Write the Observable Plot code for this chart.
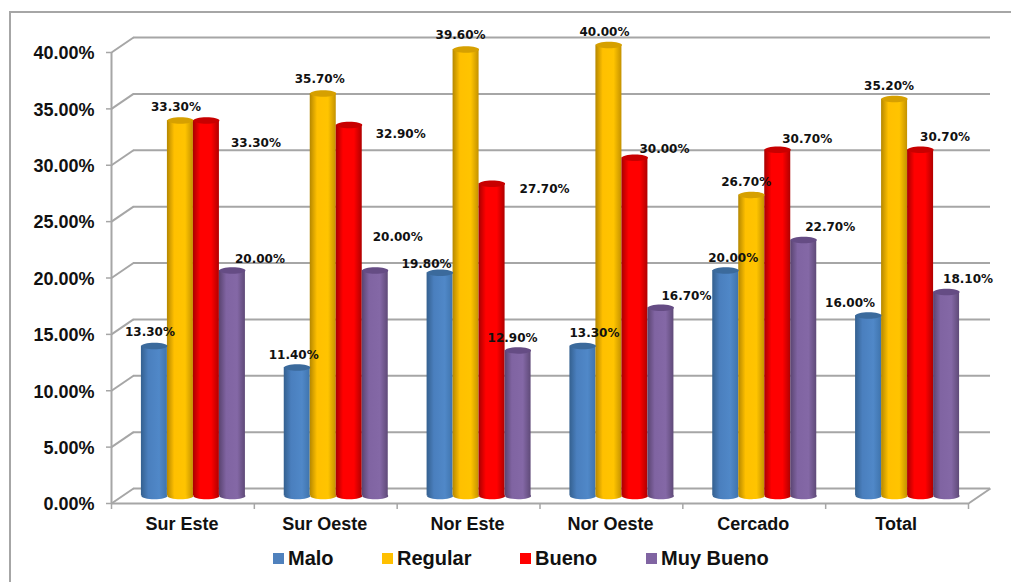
<!DOCTYPE html>
<html>
<head>
<meta charset="utf-8">
<script src="https://cdn.jsdelivr.net/npm/d3@7"></script>
<script src="https://cdn.jsdelivr.net/npm/@observablehq/plot@0.6"></script>
<style>
  html, body { margin: 0; padding: 0; background: #fff; }
  #page { position: relative; width: 1011px; height: 582px; overflow: hidden; }
  #frame { position: absolute; left: 9px; top: 11px; width: 1100px; height: 700px; border: 2px solid #a6a6a6; box-sizing: border-box; }
  #chart { position: absolute; left: 0; top: 0; }
  #legend { position: absolute; top: 546px; left: 0; height: 24px; font: bold 20px "Liberation Sans", Arial, sans-serif; color: #111; }
  #legend span { position: absolute; top: 0; white-space: nowrap; line-height: 24px; }
  #legend i { position: absolute; top: 7px; width: 11px; height: 11px; }
</style>
</head>
<body>
<div id="page">
  <div id="frame"></div>
  <div id="chart"></div>
  <div id="legend"></div>
</div>
<script>
const categories = ["Sur Este", "Sur Oeste", "Nor Este", "Nor Oeste", "Cercado", "Total"];
const seriesNames = ["Malo", "Regular", "Bueno", "Muy Bueno"];
const malo     = [13.3, 11.4, 19.8, 13.3, 20.0, 16.0];
const regular  = [33.3, 35.7, 39.6, 40.0, 26.7, 35.2];
const bueno    = [33.3, 32.9, 27.7, 30.0, 30.7, 30.7];
const muyBueno = [20.0, 20.0, 12.9, 16.7, 22.7, 18.1];
const yTicks = [0, 5, 10, 15, 20, 25, 30, 35, 40];

// Per-label nudges from the top of each cylinder: [dx, dy], one row per series.
const labelNudge = [
  [[-5, -14], [-4, -12], [-14, -9], [11, -13], [7, -12], [-19, -12]],
  [[-5, -13], [-4, -14], [-6, -14], [-5, -13], [-6, -13], [-6, -13]],
  [[49, 23], [51, 9], [52, 5], [29, -9], [29, -11], [24, -13]],
  [[27, -11], [22, -33], [-6, -12], [25, -12], [26, -13], [21, -13]]
];

const seriesValues = [malo, regular, bueno, muyBueno];
const seriesColors = ["#4f81bd", "#ffc000", "#ff0000", "#8064a2"];
const topColors = ["#3b6a9c", "#d6a000", "#c80000", "#654c84"];
const gradientStops = [
  ["#34608f", "#4a7fbe", "#5088c8", "#3f74ad"],
  ["#b58700", "#ffc000", "#ffc400", "#c49200"],
  ["#a80000", "#ff0000", "#ff0000", "#b00000"],
  ["#5a4470", "#8064a2", "#8468a6", "#5f4a78"]
];

// Bars occupy a fixed share of each category slot, in x-scale units.
const barWidth = 26 / (857 / 6);
const groupInset = (1 - 4 * barWidth) / 2;

const rows = categories.flatMap((category, i) =>
  seriesNames.map((series, j) => ({
    category, series, s: j, g: i,
    value: seriesValues[j][i],
    x1: i + groupInset + j * barWidth,
    x2: i + groupInset + (j + 1) * barWidth,
    xm: i + groupInset + (j + 0.5) * barWidth
  }))
);

// Depth of the pseudo-3D floor, in pixels and in data units.
const depthX = 22, depthY = 15;
const width = 1011, height = 535;
const marginLeft = 111, marginRight = width - 968, marginTop = 52, marginBottom = height - 503;
const depthU = depthX / ((width - marginLeft - marginRight) / 6);
const depthV = depthY / ((height - marginTop - marginBottom) / 40);
const shift = { dx: depthX / 2 - 0.5, dy: -depthY / 2 };

const lineStyle = { stroke: "#a6a6a6", strokeWidth: 2 };

// Flattened ellipse symbol for the cylinder caps.
const ellipse = {
  draw(ctx, size) {
    const rx = Math.sqrt(size / Math.PI), ry = rx * 0.25, k = 0.5523;
    ctx.moveTo(-rx, 0);
    ctx.bezierCurveTo(-rx, -k * ry, -k * rx, -ry, 0, -ry);
    ctx.bezierCurveTo(k * rx, -ry, rx, -k * ry, rx, 0);
    ctx.bezierCurveTo(rx, k * ry, k * rx, ry, 0, ry);
    ctx.bezierCurveTo(-k * rx, ry, -rx, k * ry, -rx, 0);
    ctx.closePath();
  }
};

const defs = () => {
  const ns = "http://www.w3.org/2000/svg";
  const d = document.createElementNS(ns, "defs");
  gradientStops.forEach((stops, j) => {
    const g = document.createElementNS(ns, "linearGradient");
    g.setAttribute("id", "cyl" + j);
    [0, 0.28, 0.7, 1].forEach((o, n) => {
      const s = document.createElementNS(ns, "stop");
      s.setAttribute("offset", o);
      s.setAttribute("stop-color", stops[n]);
      g.appendChild(s);
    });
    d.appendChild(g);
  });
  return d;
};

const fillScale = {
  domain: seriesNames,
  range: seriesNames.map((_, j) => `url(#cyl${j})`)
};

const labelMarks = rows.map((r) =>
  Plot.text([r], {
    x: "xm",
    y: "value",
    text: (d) => d.value.toFixed(2) + "%",
    dx: depthX / 2 + labelNudge[r.s][r.g][0],
    dy: shift.dy + labelNudge[r.s][r.g][1],
    fontFamily: "'DejaVu Sans', Verdana, sans-serif",
    fontWeight: "bold",
    fontSize: 12,
    fill: "#111"
  })
);

const plot = Plot.plot({
  width, height, marginLeft, marginRight, marginTop, marginBottom,
  style: { background: "transparent", overflow: "visible" },
  x: { type: "linear", domain: [0, 6], axis: null },
  y: { type: "linear", domain: [0, 40], axis: null },
  color: fillScale,
  marks: [
    defs,
    // Back wall gridlines and the slanted side wall
    Plot.ruleY(yTicks, { y: (d) => d + depthV, x1: () => depthU, x2: () => 6 + depthU, ...lineStyle }),
    Plot.link(yTicks, { x1: () => 0, y1: (d) => d, x2: () => depthU, y2: (d) => d + depthV, ...lineStyle }),
    Plot.link([0], { x1: () => 6, y1: () => 0, x2: () => 6 + depthU, y2: () => depthV, ...lineStyle }),
    // Front axes with tick marks
    Plot.ruleX([0], { y1: () => 0, y2: () => 40, ...lineStyle }),
    Plot.ruleY([0], { x1: () => 0, x2: () => 6, ...lineStyle }),
    Plot.axisY(yTicks, {
      anchor: "left", tickSize: 5, stroke: "#a6a6a6", strokeWidth: 1.5,
      tickFormat: () => "", label: null
    }),
    Plot.axisX(d3.range(7), {
      anchor: "bottom", tickSize: 6, stroke: "#a6a6a6", strokeWidth: 1.5,
      tickFormat: () => "", label: null
    }),
    // Cylinder bodies with their floor-side caps
    Plot.dot(rows, {
      x: "xm", y: () => 0, r: 13, symbol: ellipse, fill: "series", ...shift
    }),
    Plot.rect(rows, {
      x1: "x1", x2: "x2", y1: () => 0, y2: "value", fill: "series", ...shift
    }),
    // Top caps
    Plot.dot(rows, {
      x: "xm", y: "value", r: 13, symbol: ellipse,
      fill: (d) => topColors[d.s], ...shift
    }),
    // Tick labels
    Plot.text(yTicks, {
      x: () => 0, y: (d) => d, text: (d) => d.toFixed(2) + "%",
      textAnchor: "end", dx: -17, dy: 1,
      fontFamily: "'Liberation Sans', Arial, sans-serif",
      fontWeight: "bold", fontSize: 18, fill: "#111"
    }),
    Plot.text(categories, {
      x: (d, i) => i + 0.5, y: () => 0, text: (d) => d,
      dx: -1, dy: 21,
      fontFamily: "'Liberation Sans', Arial, sans-serif",
      fontWeight: "bold", fontSize: 18, fill: "#111"
    }),
    ...labelMarks
  ]
});
document.getElementById("chart").appendChild(plot);

// Legend row below the plot
const legend = document.getElementById("legend");
const swatchX = [273, 382, 520, 646];
seriesNames.forEach((name, j) => {
  const i = document.createElement("i");
  i.style.left = swatchX[j] + "px";
  i.style.background = seriesColors[j];
  legend.appendChild(i);
  const s = document.createElement("span");
  s.style.left = swatchX[j] + 15 + "px";
  s.textContent = name;
  legend.appendChild(s);
});
</script>
</body>
</html>
